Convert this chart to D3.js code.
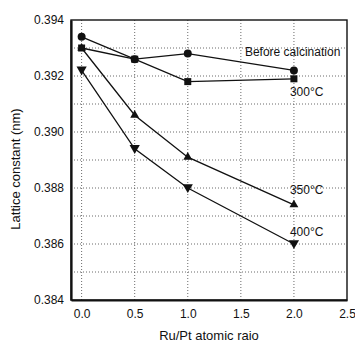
<!DOCTYPE html>
<html>
<head>
<meta charset="utf-8">
<script src="https://cdn.jsdelivr.net/npm/d3@7"></script>
<style>
  body { margin: 0; background: #fff; }
  text { font-family: "Liberation Sans", Arial, sans-serif; fill: #111; }
</style>
</head>
<body>
<div id="chart"></div>
<script>
// data
const ratios = [0.0, 0.5, 1.0, 2.0];
const beforeCalc = [0.3934, 0.3926, 0.3928, 0.3922];
const t300 = [0.3930, 0.3926, 0.3918, 0.3919];
const t350 = [0.3930, 0.3906, 0.3891, 0.3874];
const t400 = [0.3922, 0.3894, 0.3880, 0.3860];
const xTicks = [0.0, 0.5, 1.0, 1.5, 2.0, 2.5];
const yTicks = [0.384, 0.386, 0.388, 0.390, 0.392, 0.394];
const yGrid = [0.385, 0.386, 0.387, 0.388, 0.389, 0.390, 0.391, 0.392, 0.393];

const series = [
  { values: beforeCalc, symbol: d3.symbolCircle, size: 50, label: 'Before calcination', dx: -49, dy: -14 },
  { values: t300, symbol: d3.symbolSquare, size: 49, label: '300°C', dx: -4, dy: 17 },
  { values: t350, symbol: d3.symbolTriangle, size: 34, label: '350°C', dx: -4, dy: -11 },
  { values: t400, symbol: 'down', size: 34, label: '400°C', dx: -4, dy: -8 }
];

const svgWidth = 355, svgHeight = 344;
const margin = { top: 20, right: 8, bottom: 44, left: 71 };
const width = svgWidth - margin.left - margin.right;
const height = svgHeight - margin.top - margin.bottom;

const svg = d3.select('#chart')
  .append('svg')
  .attr('width', svgWidth)
  .attr('height', svgHeight)
  .append('g')
  .attr('transform', `translate(${margin.left},${margin.top})`);

const xScale = d3.scaleLinear().domain([-0.1, 2.5]).range([0, width]);
const yScale = d3.scaleLinear().domain([0.384, 0.394]).range([height, 0]);

// dotted grid
svg.append('g').selectAll('line')
  .data(yGrid)
  .enter()
  .append('line')
  .attr('x1', 0).attr('x2', width)
  .attr('y1', d => yScale(d)).attr('y2', d => yScale(d))
  .attr('stroke', '#444')
  .attr('stroke-width', 0.8)
  .attr('stroke-dasharray', '1,2');

svg.append('g').selectAll('line')
  .data(xTicks.slice(0, -1))
  .enter()
  .append('line')
  .attr('x1', d => xScale(d)).attr('x2', d => xScale(d))
  .attr('y1', 0).attr('y2', height)
  .attr('stroke', '#444')
  .attr('stroke-width', 0.8)
  .attr('stroke-dasharray', '1,2');

// frame
svg.append('rect')
  .attr('width', width).attr('height', height)
  .attr('fill', 'none')
  .attr('stroke', '#111')
  .attr('stroke-width', 1.4);

// axes
const xAxis = svg.append('g')
  .attr('transform', `translate(0,${height})`)
  .call(d3.axisBottom(xScale).tickValues(xTicks).tickFormat(d3.format('.1f')).tickSize(0).tickPadding(9));
const yAxis = svg.append('g')
  .call(d3.axisLeft(yScale).tickValues(yTicks).tickFormat(d3.format('.3f')).tickSize(0).tickPadding(7));
[xAxis, yAxis].forEach(a => {
  a.select('.domain').attr('stroke', '#111').attr('stroke-width', 2.2);
  a.selectAll('text').style('font-size', '12px').attr('fill', '#111');
});

// lines and markers
const line = d3.line().x(d => xScale(d[0])).y(d => yScale(d[1]));
const downTri = {
  draw(ctx, size) {
    const r = Math.sqrt(size / 1.3);
    ctx.moveTo(-r, -r * 0.75);
    ctx.lineTo(r, -r * 0.75);
    ctx.lineTo(0, r);
    ctx.closePath();
  }
};

series.forEach(s => {
  const pts = ratios.map((r, i) => [r, s.values[i]]);
  svg.append('path')
    .datum(pts)
    .attr('d', line)
    .attr('fill', 'none')
    .attr('stroke', '#111')
    .attr('stroke-width', 1.3);

  const sym = d3.symbol().type(s.symbol === 'down' ? downTri : s.symbol).size(s.size);
  svg.append('g').selectAll('path')
    .data(pts)
    .enter()
    .append('path')
    .attr('d', sym)
    .attr('transform', d => `translate(${xScale(d[0])},${yScale(d[1])})`)
    .attr('fill', '#111');

  const last = pts[pts.length - 1];
  svg.append('text')
    .attr('x', xScale(last[0]) + s.dx)
    .attr('y', yScale(last[1]) + s.dy)
    .style('font-size', '12px')
    .text(s.label);
});

// axis titles
svg.append('text')
  .attr('x', width / 2)
  .attr('y', height + 40)
  .attr('text-anchor', 'middle')
  .style('font-size', '13px')
  .text('Ru/Pt atomic raio');

svg.append('text')
  .attr('transform', `translate(${-51},${height / 2 + 9}) rotate(-90)`)
  .attr('text-anchor', 'middle')
  .style('font-size', '13px')
  .text('Lattice constant (nm)');
</script>
</body>
</html>
